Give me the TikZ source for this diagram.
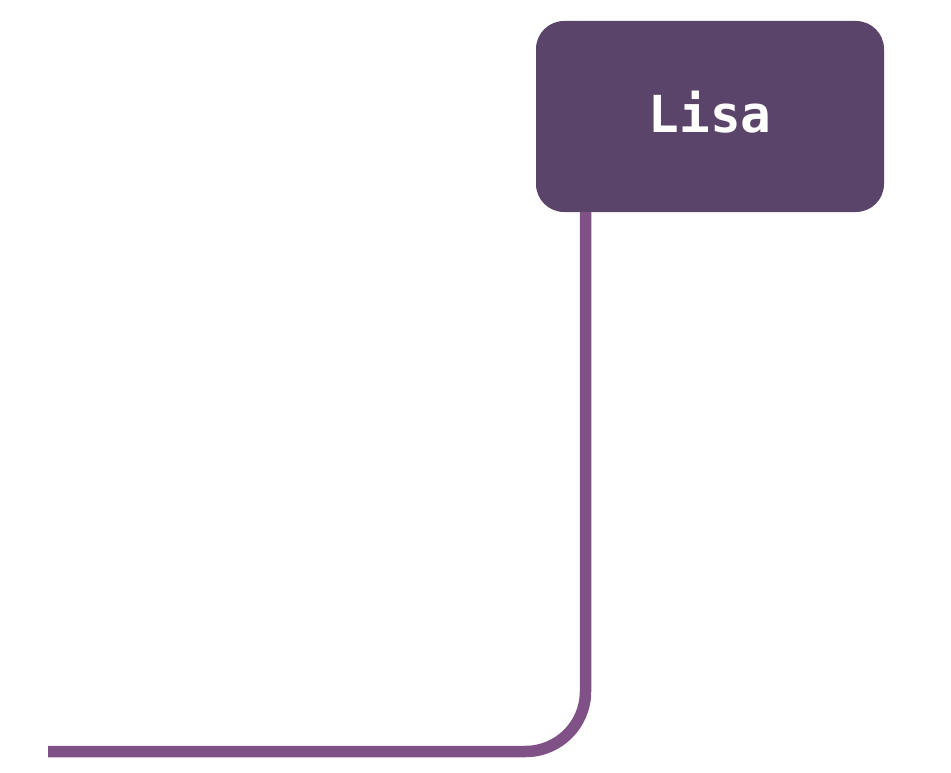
\documentclass[tikz,border=0pt]{standalone}
\usepackage{fontspec}
\newfontfamily\pixfont{DejaVu Sans Mono}
\definecolor{boxfill}{HTML}{5B4469}
\definecolor{linkcol}{HTML}{7F5186}
\tikzset{
  namebox/.style={fill=boxfill, rounded corners=28pt, minimum width=348pt, minimum height=191pt, inner sep=0pt, text=white, font=\pixfont\bfseries\fontsize{51pt}{51pt}\selectfont},
  link/.style={draw=linkcol, line width=11.5pt, rounded corners=60pt}
}
\begin{document}
\begin{tikzpicture}[x=1pt,y=-1pt]
\useasboundingbox (0,0) rectangle (951,773);
\node[namebox] (lisa) at (710,116.5) {\raisebox{10pt}{Lisa}};
\coordinate (bend) at (585.5,751.5);
\coordinate (tail) at (48,751.5);
\draw[link] (lisa.south -| bend) -- (bend) -- (tail);
\end{tikzpicture}
\end{document}
